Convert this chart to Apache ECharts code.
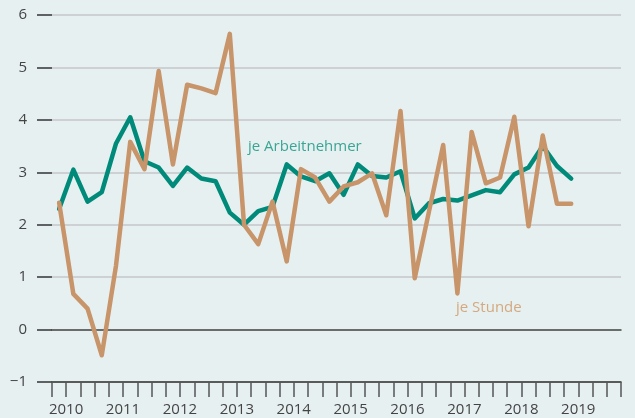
<!DOCTYPE html>
<html>
<head>
<meta charset="utf-8">
<script src="https://cdn.jsdelivr.net/npm/echarts@6/dist/echarts.min.js"></script>
<style>
  html, body { margin: 0; padding: 0; background: #e7f0f1; }
  #chart { width: 635px; height: 418px; }
</style>
</head>
<body>
<div id="chart"></div>
<script>
// Quartale 2010 Q1 – 2019 Q4 (Daten bis 2019 Q1)
const years = [2010, 2011, 2012, 2013, 2014, 2015, 2016, 2017, 2018, 2019]
const quarters = []
years.forEach(y => { for (let q = 1; q <= 4; q++) quarters.push(y + ' Q' + q) })

// je Arbeitnehmer
const perEmployee = [
  2.3, 3.05, 2.44, 2.62, 3.55, 4.05, 3.21, 3.09, 2.74, 3.09,
  2.88, 2.83, 2.23, 2.0, 2.26, 2.34, 3.15, 2.92, 2.83, 2.98,
  2.57, 3.15, 2.93, 2.9, 3.02, 2.12, 2.41, 2.49, 2.46, 2.56,
  2.66, 2.62, 2.96, 3.09, 3.5, 3.12, 2.88
]

// je Stunde
const perHour = [
  2.42, 0.68, 0.4, -0.49, 1.22, 3.58, 3.06, 4.93, 3.15, 4.67,
  4.6, 4.51, 5.64, 2.0, 1.63, 2.44, 1.3, 3.06, 2.9, 2.44,
  2.73, 2.81, 2.98, 2.18, 4.17, 0.98, 2.25, 3.52, 0.69, 3.77,
  2.79, 2.9, 4.06, 1.97, 3.7, 2.4, 2.4
]

const yTicks = [-1, 0, 1, 2, 3, 4, 5, 6]

const font = "'Open Sans', 'Noto Sans', sans-serif"
const chart = echarts.init(document.getElementById('chart'))

chart.setOption({
  backgroundColor: '#e7f0f1',
  animation: false,
  textStyle: { fontFamily: font },
  grid: { left: 52, right: 14, top: 15, bottom: 36, containLabel: false },
  xAxis: [
    {
      type: 'category',
      data: quarters,
      boundaryGap: true,
      axisLine: { onZero: false, lineStyle: { color: '#333', width: 1.5 } },
      axisTick: { show: true, interval: 0, length: 15, lineStyle: { color: '#555', width: 1.5 } },
      axisLabel: {
        interval: 3,
        margin: 20,
        fontSize: 15,
        color: '#444',
        padding: [0, 0, 0, 14],
        formatter: v => v.slice(0, 4)
      }
    },
    {
      // Nulllinie
      type: 'category',
      data: quarters,
      position: 'bottom',
      axisLine: { onZero: true, lineStyle: { color: '#4a4a4a', width: 1.5 } },
      axisTick: { show: false },
      axisLabel: { show: false },
      splitLine: { show: false }
    }
  ],
  yAxis: {
    type: 'value',
    min: yTicks[0],
    max: yTicks[yTicks.length - 1],
    interval: 1,
    axisLine: { show: false },
    axisTick: { show: true, length: 15, lineStyle: { color: '#333', width: 1.5 } },
    axisLabel: {
      margin: 25,
      fontSize: 15,
      color: '#444',
      formatter: v => (v < 0 ? '\u2212' + Math.abs(v) : String(v))
    },
    splitLine: { lineStyle: { color: '#c4c7c9', width: 1.5 } }
  },
  series: [
    {
      name: 'je Stunde',
      type: 'line',
      data: perHour,
      symbol: 'none',
      lineStyle: { color: '#c8946a', width: 4.5, cap: 'round', join: 'round' },
      itemStyle: { color: '#c8946a' },
      z: 3
    },
    {
      name: 'je Arbeitnehmer',
      type: 'line',
      data: perEmployee,
      symbol: 'none',
      lineStyle: { color: '#008a7a', width: 4.5, cap: 'round', join: 'round' },
      itemStyle: { color: '#008a7a' },
      z: 2
    }
  ],
  graphic: [
    {
      type: 'text',
      left: 248,
      top: 139,
      style: { text: 'je Arbeitnehmer', fill: '#3aa595', fontSize: 15, fontFamily: font }
    },
    {
      type: 'text',
      left: 456,
      top: 300,
      style: { text: 'je Stunde', fill: '#d4a97f', fontSize: 15, fontFamily: font }
    }
  ]
})
</script>
</body>
</html>
